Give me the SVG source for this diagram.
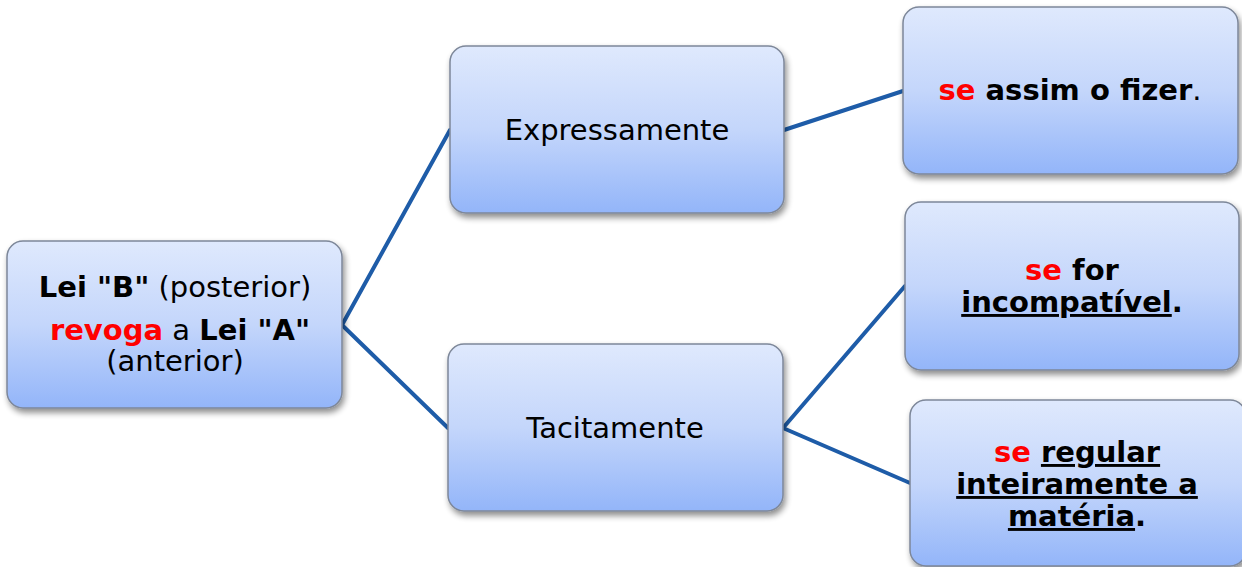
<svg xmlns="http://www.w3.org/2000/svg" width="1242" height="567" viewBox="0 0 1242 567">
<defs>
<linearGradient id="g" x1="0" y1="0" x2="0" y2="1">
<stop offset="0" stop-color="#dfe9fd"/>
<stop offset="0.5" stop-color="#c4d6fb"/>
<stop offset="1" stop-color="#93b5f9"/>
</linearGradient>
<filter id="sh" x="-10%" y="-10%" width="125%" height="130%">
<feGaussianBlur in="SourceAlpha" stdDeviation="3"/>
<feOffset dx="2" dy="4" result="b"/>
<feComponentTransfer><feFuncA type="linear" slope="0.45"/></feComponentTransfer>
<feMerge><feMergeNode/><feMergeNode in="SourceGraphic"/></feMerge>
</filter>
</defs>
<style>
.box{fill:url(#g);stroke:#7d8799;stroke-width:1.5;filter:url(#sh)}
.t{font-family:"DejaVu Sans",Verdana,sans-serif;font-size:29px;fill:#000;text-anchor:middle}
.b{font-weight:bold}
.r{fill:#ff0000;font-weight:bold}
.u{text-decoration:underline}
.c{stroke:#1e5ca8;stroke-width:4;fill:none;stroke-linecap:round}
</style>
<g id="connectors">
<line class="c" x1="342" y1="325" x2="450" y2="130"/>
<line class="c" x1="342" y1="325" x2="448" y2="428"/>
<line class="c" x1="784" y1="130" x2="903" y2="91"/>
<line class="c" x1="783" y1="428" x2="905" y2="286"/>
<line class="c" x1="783" y1="428" x2="910" y2="483"/>
</g>
<g id="lei">
<rect class="box" x="7" y="241" width="335" height="167" rx="16"/>
<text class="t" x="175" y="297"><tspan class="b">Lei "B"</tspan> (posterior)</text>
<text class="t" x="180" y="340"><tspan class="r">revoga</tspan> a <tspan class="b">Lei "A"</tspan></text>
<text class="t" x="175" y="371">(anterior)</text>
</g>
<g id="expressamente">
<rect class="box" x="450" y="46" width="334" height="167" rx="16"/>
<text class="t" x="617" y="140">Expressamente</text>
</g>
<g id="tacitamente">
<rect class="box" x="448" y="344" width="335" height="167" rx="16"/>
<text class="t" x="615" y="438">Tacitamente</text>
</g>
<g id="assim">
<rect class="box" x="903" y="7" width="335" height="167" rx="16"/>
<text class="t" x="1070" y="100"><tspan class="r">se</tspan><tspan class="b"> assim o fizer</tspan>.</text>
</g>
<g id="incompativel">
<rect class="box" x="905" y="202" width="334" height="168" rx="16"/>
<text class="t b" x="1072" y="280"><tspan class="r">se</tspan> for</text>
<text class="t b" x="1072" y="312"><tspan class="u">incompatível</tspan>.</text>
</g>
<g id="regular">
<rect class="box" x="910" y="400" width="336" height="166" rx="16"/>
<text class="t b" x="1077" y="462"><tspan class="r">se</tspan> <tspan class="u">regular</tspan></text>
<text class="t b" x="1077" y="494"><tspan class="u">inteiramente a</tspan></text>
<text class="t b" x="1077" y="526"><tspan class="u">matéria</tspan>.</text>
</g>
</svg>
